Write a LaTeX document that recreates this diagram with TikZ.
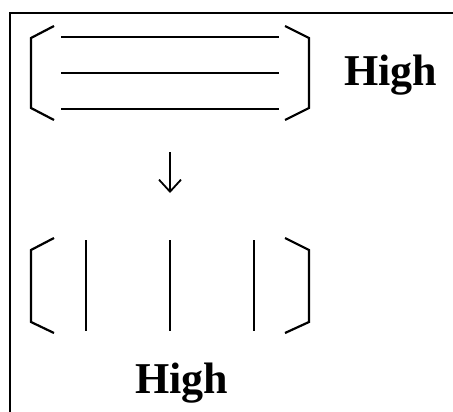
\documentclass[tikz,border=0pt]{standalone}
\usepackage{fontspec}
\setmainfont{Liberation Serif}
\usetikzlibrary{arrows.meta}
\begin{document}
\begin{tikzpicture}[x=1pt,y=-1pt,
  stroke/.style={line width=2.2pt, line cap=butt, line join=miter},
  label/.style={font=\bfseries\fontsize{44}{44}\selectfont, inner sep=0pt, anchor=base west}]
\useasboundingbox (0,0) rectangle (453,412);
% frame
\draw[line width=2.2pt] (10,413) -- (10,13) -- (454,13);
% upper group: brackets with three horizontal bars
\draw[stroke] (54,26) -- (31,38) -- (31,108) -- (54,120);
\draw[stroke] (285,26) -- (309,38) -- (309,108) -- (285,120);
\foreach \y in {37,73,109} \draw[stroke] (61,\y) -- (279,\y);
\node[label] (hightop) at (344,86) {High};
% arrow
\coordinate (a1) at (170,152);
\coordinate (a2) at (170,193);
\draw[line width=1.8pt, -{Straight Barb[length=12pt,width=22pt,line width=1.8pt]}] (a1) -- (a2);
% lower group: brackets with three vertical bars
\draw[stroke] (54,238) -- (31,250) -- (31,322) -- (54,333);
\draw[stroke] (285,238) -- (309,250) -- (309,322) -- (285,333);
\foreach \x in {86,170,254} \draw[stroke] (\x,240) -- (\x,331);
\node[label] (highbot) at (135,393) {High};
\end{tikzpicture}
\end{document}
